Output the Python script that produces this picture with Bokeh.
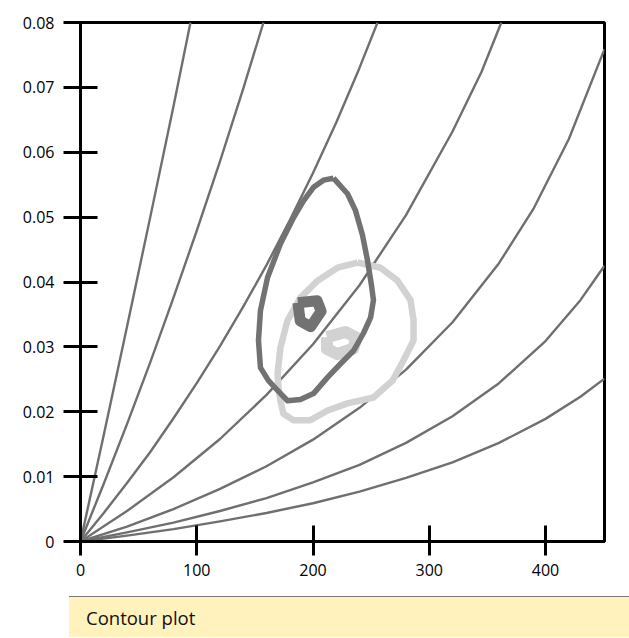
from bokeh.plotting import figure
from bokeh.models import Range1d, FixedTicker, Div
from bokeh.layouts import column
from bokeh.embed import file_html
from bokeh.resources import INLINE

# ---- data ----
x_ticks = [0, 100, 200, 300, 400]
x_labels = ["0", "100", "200", "300", "400"]
y_ticks = [0, 0.01, 0.02, 0.03, 0.04, 0.05, 0.06, 0.07, 0.08]
y_labels = ["0", "0.01", "0.02", "0.03", "0.04", "0.05", "0.06", "0.07", "0.08"]

# background reference curves (steep to shallow)
c1_x = [0, 20, 40, 60, 80, 94.6]
c1_y = [0, 0.0164, 0.0331, 0.0500, 0.0671, 0.0800]
c2_x = [0, 20, 40, 60, 80, 100, 120, 140, 157.4]
c2_y = [0, 0.0089, 0.0181, 0.0276, 0.0376, 0.0479, 0.0586, 0.0698, 0.0800]
c3_x = [0, 20, 40, 60, 80, 100, 120, 140, 160, 180, 200, 220, 240, 255.5]
c3_y = [0, 0.0044, 0.0090, 0.0138, 0.0190, 0.0244, 0.0301, 0.0362, 0.0426, 0.0495,
        0.0568, 0.0646, 0.0730, 0.0800]
c4_x = [0, 40, 80, 120, 160, 200, 240, 280, 320, 345, 362]
c4_y = [0, 0.0047, 0.0099, 0.0158, 0.0226, 0.0304, 0.0395, 0.0503, 0.0632, 0.0724, 0.0800]
c5_x = [0, 40, 80, 120, 160, 200, 240, 280, 320, 360, 390, 420, 450.75]
c5_y = [0, 0.0023, 0.0050, 0.0081, 0.0116, 0.0157, 0.0206, 0.0265, 0.0338, 0.0429,
        0.0514, 0.0620, 0.0759]
c6_x = [0, 40, 80, 120, 160, 200, 240, 280, 320, 360, 400, 430, 450.75]
c6_y = [0, 0.0014, 0.0029, 0.0047, 0.0067, 0.0091, 0.0118, 0.0152, 0.0193, 0.0244,
        0.0309, 0.0372, 0.0425]
c7_x = [0, 40, 80, 120, 160, 200, 240, 280, 320, 360, 400, 430, 450.75]
c7_y = [0, 0.0009, 0.0019, 0.0031, 0.0044, 0.0059, 0.0077, 0.0098, 0.0122, 0.0152,
        0.0189, 0.0223, 0.0251]

# dark contour (outer loop and inner blob)
dark_x = [217.6, 229.7, 236.6, 242.6, 246.9, 250.3, 252.0, 249.5, 243.4, 234.8, 223.7,
          212.5, 200.4, 189.2, 178.1, 169.5, 161.7, 154.8, 153.1, 154.8, 160.9, 172.0,
          183.2, 191.8, 200.4, 209.0, 217.6]
dark_y = [0.0560, 0.0536, 0.0510, 0.0472, 0.0433, 0.0395, 0.0372, 0.0345, 0.0321, 0.0294,
          0.0274, 0.0253, 0.0228, 0.0219, 0.0217, 0.0233, 0.0248, 0.0268, 0.0310, 0.0356,
          0.0407, 0.0459, 0.0499, 0.0525, 0.0546, 0.0557, 0.0560]
dark_in_x = [187.0, 203.5, 207.0, 198.0, 189.0, 187.0]
dark_in_y = [0.0368, 0.0371, 0.0355, 0.0331, 0.0340, 0.0368]

# light contour (outer loop and inner blob)
light_x = [238.3, 258.1, 272.7, 283.9, 286.5, 286.5, 277.8, 268.4, 252.0, 229.7, 212.5,
           197.8, 183.2, 174.6, 172.0, 170.3, 169.5, 172.0, 178.1, 189.2, 203.9, 221.1, 238.3]
light_y = [0.0430, 0.0422, 0.0402, 0.0372, 0.0341, 0.0310, 0.0279, 0.0248, 0.0222, 0.0213,
           0.0202, 0.0187, 0.0187, 0.0197, 0.0217, 0.0237, 0.0259, 0.0299, 0.0341, 0.0376,
           0.0402, 0.0422, 0.0430]
light_in_x = [212.0, 228.0, 237.5, 234.5, 221.0, 212.0, 212.0]
light_in_y = [0.0315, 0.0323, 0.0314, 0.0297, 0.0289, 0.0297, 0.0315]

caption = "Contour plot"

# ---- figure ----
p = figure(output_backend="svg", toolbar_location=None,
           x_range=Range1d(0, 450.75), y_range=Range1d(0, 0.08),
           frame_width=524, frame_height=519,
           min_border_left=80, min_border_right=20, min_border_top=22, min_border_bottom=55)
p.background_fill_color = "white"
p.border_fill_color = "white"
p.outline_line_color = "black"
p.outline_line_width = 3
p.xgrid.visible = False
p.ygrid.visible = False

line_col = "#6f6f6f"
for xs, ys in [(c1_x, c1_y), (c2_x, c2_y), (c3_x, c3_y), (c4_x, c4_y),
               (c5_x, c5_y), (c6_x, c6_y), (c7_x, c7_y)]:
    p.line(xs, ys, line_color=line_col, line_width=2.4, line_join="round")

light_col = "#d2d2d2"
dark_col = "#727272"
p.line(light_x, light_y, line_color=light_col, line_width=6.5, line_join="round")
p.line(light_in_x, light_in_y, line_color=light_col, line_width=12, line_join="round")
p.line(dark_x, dark_y, line_color=dark_col, line_width=5.5, line_join="round")
p.line(dark_in_x, dark_in_y, line_color=dark_col, line_width=11, line_join="round")

for ax in (p.xaxis[0], p.yaxis[0]):
    ax.axis_line_color = "black"
    ax.axis_line_width = 3
    ax.major_tick_line_color = "black"
    ax.major_tick_line_width = 3
    ax.minor_tick_line_color = None
    ax.major_label_text_font = "Open Sans"
    ax.major_label_text_font_size = "16px"
    ax.major_label_text_color = "black"

p.xaxis.ticker = FixedTicker(ticks=x_ticks)
p.xaxis.major_label_overrides = dict(zip(x_ticks, x_labels))
p.xaxis.major_tick_in = 16
p.xaxis.major_tick_out = 14
p.xaxis.major_label_standoff = 8

p.yaxis.ticker = FixedTicker(ticks=y_ticks)
p.yaxis.major_label_overrides = dict(zip(y_ticks, y_labels))
p.yaxis.major_tick_in = 17
p.yaxis.major_tick_out = 17
p.yaxis.major_label_standoff = 9

cap = Div(text=(
    '<div style="margin-left:69px;width:560px;height:41px;box-sizing:border-box;'
    'background:#fff2bd;border-top:1.5px solid #7a7a7a;padding-left:17px;'
    'font-family:\'Open Sans\';font-size:18.5px;line-height:42px;color:#111;">'
    + caption + '</div>'), width=629, height=41, margin=0)

layout = column(p, cap, spacing=0)
open("out.html", "w").write(file_html(layout, INLINE))
